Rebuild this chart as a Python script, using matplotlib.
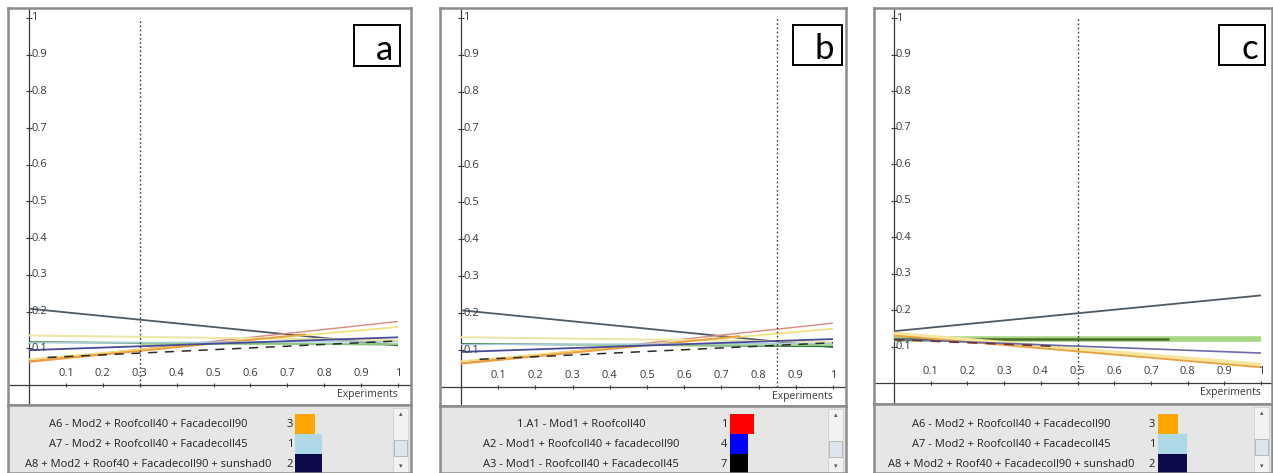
import matplotlib.pyplot as plt
import matplotlib.transforms as mtransforms
from matplotlib.patches import Rectangle

plt.rcParams['font.family'] = ['Open Sans', 'DejaVu Sans']

W, H = 1273, 473

# graduations des axes
x_ticks = [0.1, 0.2, 0.3, 0.4, 0.5, 0.6, 0.7, 0.8, 0.9, 1]
x_tick_labels = ["0.1", "0.2", "0.3", "0.4", "0.5", "0.6", "0.7", "0.8", "0.9", "1"]
y_ticks = [0.1, 0.2, 0.3, 0.4, 0.5, 0.6, 0.7, 0.8, 0.9, 1]
y_tick_labels = ["0.1", "0.2", "0.3", "0.4", "0.5", "0.6", "0.7", "0.8", "0.9", "1"]

# courbes des panneaux a et b (identiques)
ab_x = [[0, 1], [0, 1], [0, 1], [0, 1], [0, 0.75], [0, 1], [0.3, 1], [0, 1], [0, 1], [0.05, 1]]
ab_y = [[0.208, 0.108], [0.065, 0.173], [0.135, 0.122], [0.07, 0.158], [0.063, 0.138],
        [0.117, 0.110], [0.113, 0.113], [0.115, 0.118], [0.095, 0.130], [0.075, 0.120]]
ab_colors = ['#505a66', '#d88a80', '#ece6a8', '#f2e07a', '#eca040',
             '#2f7a3a', '#9fd68a', '#a8cce0', '#4a4a9a', '#2a2a2a']
ab_widths = [1.3, 1.0, 1.5, 1.2, 1.4, 1.2, 1.2, 1.0, 1.3, 1.1]
ab_styles = ['-', '-', '-', '-', '-', '-', '-', '-', '-', (0, (6, 5))]

# courbes du panneau c
c_x = [[0, 1], [0, 1], [0, 0.75], [0, 1], [0, 1], [0, 1], [0, 0.45]]
c_y = [[0.142, 0.240], [0.121, 0.121], [0.121, 0.121], [0.135, 0.050],
       [0.130, 0.043], [0.120, 0.082], [0.119, 0.100]]
c_colors = ['#505a66', '#a6d785', '#4d6b2a', '#f7e6a0', '#e8a040', '#6a6aa8', '#6a3030']
c_widths = [1.3, 4.0, 1.8, 3.0, 1.3, 1.2, 1.2]
c_styles = ['-', '-', '-', '-', '-', '-', (0, (6, 5))]

# légendes
leg_a = ["A6 - Mod2 + Roofcoll40 + Facadecoll90",
         "A7 - Mod2 + Roofcoll40 + Facadecoll45",
         "A8 + Mod2 + Roof40 + Facadecoll90 + sunshad0"]
leg_a_num = ["3", "1", "2"]
leg_a_col = ['#ffa500', '#add8e6', '#0b0b4a']
leg_b = ["1.A1 - Mod1 + Roofcoll40",
         "A2 - Mod1 + Roofcoll40 + facadecoll90",
         "A3 - Mod1 - Roofcoll40 + Facadecoll45"]
leg_b_num = ["1", "4", "7"]
leg_b_col = ['#ff0000', '#0000ff', '#000000']

markers = [0.3, 0.85, 0.5]
letters = ['a', 'b', 'c']

fig = plt.figure(figsize=(W / 100, H / 100), dpi=100)


def rect(l, t, r, b):
    return [l / W, 1 - b / H, (r - l) / W, (b - t) / H]


geo = [
    dict(frame=(8, 8, 411, 405), origin=(29, 385), x1=398, y1=18,
         box=(354, 25, 400, 66), text_c=148, num_x=293, sw=(295, [315, 322, 322])),
    dict(frame=(440, 8, 846, 406), origin=(461, 387), x1=833, y1=18,
         box=(793, 25, 842, 65), text_c=581, num_x=727, sw=(730, [754, 748, 748])),
    dict(frame=(874, 8, 1272, 404), origin=(894, 383), x1=1261, y1=18,
         box=(1219, 25, 1265, 65), text_c=1011, num_x=1155, sw=(1158, [1178, 1187, 1187])),
]
data = [(ab_x, ab_y, ab_colors, ab_widths, ab_styles),
        (ab_x, ab_y, ab_colors, ab_widths, ab_styles),
        (c_x, c_y, c_colors, c_widths, c_styles)]
legends = [(leg_a, leg_a_num, leg_a_col), (leg_b, leg_b_num, leg_b_col), (leg_a, leg_a_num, leg_a_col)]

for i, g in enumerate(geo):
    l, t, r, b = g['frame']
    ox, oy = g['origin']
    sx = g['x1'] - ox
    sy = oy - g['y1']
    ax = fig.add_axes(rect(l, t, r, b))
    ax.set_xlim((l - ox) / sx, (r - ox) / sx)
    ax.set_ylim((oy - b) / sy, (oy - t) / sy)
    ax.set_xticks([])
    ax.set_yticks([])
    for s in ax.spines.values():
        s.set_color('#8c8c8c')
        s.set_linewidth(1.8)

    # axes croisés
    ax.axhline(0, color='#3a3a3a', lw=0.9)
    ax.axvline(0, color='#3a3a3a', lw=0.9)

    # courbes
    xs, ys, cols, lws, lss = data[i]
    for xx, yy, c, lw, ls in zip(xs, ys, cols, lws, lss):
        ax.plot(xx, yy, color=c, lw=lw, ls=ls, solid_capstyle='butt')

    # ligne verticale pointillée
    ax.plot([markers[i], markers[i]], [0, 1], color='#3a3a3a', lw=1.0, ls=(0, (1.2, 1.8)))

    # graduations
    ax.plot(x_ticks, [0] * len(x_ticks), ls='none', marker='|', ms=3, color='#3a3a3a', mew=0.8)
    ax.plot([0] * len(y_ticks), y_ticks, ls='none', marker='_', ms=4, color='#3a3a3a', mew=0.8)
    up = mtransforms.offset_copy(ax.transData, fig=fig, x=0, y=12, units='dots')
    for xv, lab in zip(x_ticks, x_tick_labels):
        ax.text(xv, 0, lab, transform=up, ha='center', va='center', fontsize=8, color='#3a3a3a')
    right = mtransforms.offset_copy(ax.transData, fig=fig, x=2, y=0, units='dots')
    for yv, lab in zip(y_ticks, y_tick_labels):
        ax.text(0, yv, lab, transform=right, ha='left', va='center', fontsize=8, color='#3a3a3a')
    down = mtransforms.offset_copy(ax.transData, fig=fig, x=0, y=-9, units='dots')
    ax.text(1, 0, "Experiments", transform=down, ha='right', va='center', fontsize=7.5, color='#3a3a3a')

    # étiquette du panneau
    bl, bt, br, bb = g['box']
    lab_ax = fig.add_axes(rect(bl, bt, br, bb))
    lab_ax.set_xticks([])
    lab_ax.set_yticks([])
    for s in lab_ax.spines.values():
        s.set_color('black')
        s.set_linewidth(1.4)
    lab_ax.text(0.84, 0.40, letters[i], transform=lab_ax.transAxes, ha='right', va='center',
                fontsize=25, family=['Lato', 'DejaVu Sans'])

    # zone de légende
    lg = fig.add_axes(rect(l, b, r, H))
    lg.set_xlim(l, r)
    lg.set_ylim(H, b)
    lg.set_facecolor('#e6e6e6')
    lg.set_xticks([])
    lg.set_yticks([])
    for s in lg.spines.values():
        s.set_color('#8c8c8c')
        s.set_linewidth(1.8)
    names, nums, cols = legends[i]
    rows = [424, 444, 464]
    x0, x1s = g['sw']
    for name, num, c, yc, xe in zip(names, nums, cols, rows, x1s):
        lg.text(g['text_c'], yc, name, ha='center', va='center', fontsize=8, color='#222222')
        lg.text(g['num_x'], yc, num, ha='right', va='center', fontsize=8, color='#222222')
        lg.add_patch(Rectangle((x0, yc - 10), xe - x0, 20, color=c, lw=0))
    # barre de défilement
    lg.add_patch(Rectangle((r - 18, b + 3), 15, H - b - 3, facecolor='#f2f2f2', edgecolor='#d0d0d0', lw=0.6))
    lg.add_patch(Rectangle((r - 17, b + 35), 13, 16, facecolor='#dde6ee', edgecolor='#b0b0b0', lw=0.6))
    lg.text(r - 10.5, b + 10, '\u25b4', ha='center', va='center', fontsize=5, color='#555555')
    lg.text(r - 10.5, H - 6, '\u25be', ha='center', va='center', fontsize=5, color='#555555')

fig.savefig('out.png', dpi=100)
